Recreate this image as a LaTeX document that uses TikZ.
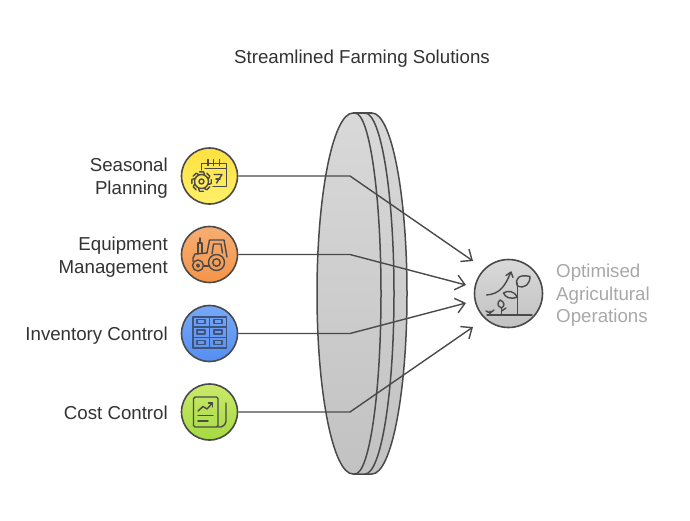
\documentclass[tikz,border=0pt]{standalone}
\usepackage{fontspec}
\setmainfont{Liberation Sans}
\usetikzlibrary{arrows.meta}
\definecolor{ink}{HTML}{4A4A4A}
\definecolor{lab}{HTML}{333333}
\definecolor{soft}{HTML}{A8A8A8}
\definecolor{yA}{HTML}{FFE13F}\definecolor{yB}{HTML}{FFF06A}
\definecolor{oA}{HTML}{F6AD72}\definecolor{oB}{HTML}{F59548}
\definecolor{bA}{HTML}{76A8F8}\definecolor{bB}{HTML}{558FF2}
\definecolor{gA}{HTML}{CBE96A}\definecolor{gB}{HTML}{A5DA42}
\definecolor{iblue}{HTML}{3F5478}
\tikzset{
  x=1pt,y=-1pt,
  conn/.style={draw=ink,line width=1.4pt,line join=round},
  tipped/.style={conn,-{Straight Barb[length=9pt,width=15pt,line width=1.4pt]}},
  badge/.style={circle,draw=ink,line width=1.6pt,minimum size=56pt,inner sep=0pt},
  lbl/.style={font=\fontsize{18.7}{23}\selectfont,text=lab,align=right,anchor=east,inner sep=0pt},
  icon/.style={draw=ink,line width=1.4pt,line cap=round,line join=round},
  lens/.style={draw=ink,line width=1.5pt},
}
\begin{document}
\begin{tikzpicture}
\useasboundingbox (0,0) rectangle (690,520);
\fill[white] (0,0) rectangle (690,520);
\node[font=\fontsize{18.7}{21}\selectfont,text=lab,inner sep=0pt] (title) at (362,59) {Streamlined Farming Solutions};
% lens
\path[top color=black!15,bottom color=black!24]
  (353,113) -- (372,113) arc[start angle=-90,end angle=90,x radius=35,y radius=180.5] -- (353,474)
  arc[start angle=90,end angle=270,x radius=36,y radius=180.5] -- cycle;
\draw[lens] (353,113) arc[start angle=-90,end angle=-270,x radius=36,y radius=180.5]
  -- (355,474) arc[start angle=90,end angle=-90,x radius=26,y radius=180.5] -- cycle;
\draw[lens] (365,113) arc[start angle=-90,end angle=90,x radius=29,y radius=180.5];
\draw[lens] (372,113) arc[start angle=-90,end angle=90,x radius=35,y radius=180.5] -- (353,474);
\draw[lens] (353,113) -- (372,113);
% badges
\node[badge,top color=yA,bottom color=yB] (seasonal) at (209.5,176) {};
\node[badge,top color=oA,bottom color=oB] (equip) at (209.5,254.5) {};
\node[badge,top color=bA,bottom color=bB] (inv) at (209.5,333.5) {};
\node[badge,top color=gA,bottom color=gB] (cost) at (209.5,412) {};
\node[circle,draw=ink,line width=1.6pt,minimum size=68pt,inner sep=0pt,top color=black!15,bottom color=black!24] (goal) at (508.5,293.5) {};
% labels
\node[lbl] (l1) at (168,178) {Seasonal\\Planning};
\node[lbl] (l2) at (168,257) {Equipment\\Management};
\node[lbl] (l3) at (168,335.5) {Inventory Control};
\node[lbl] (l4) at (168,413) {Cost Control};
\node[font=\fontsize{18.7}{22.5}\selectfont,text=soft,align=left,anchor=west,inner sep=0pt] (l5) at (556,295.5) {Optimised\\Agricultural\\Operations};
% connector bends and ends
\coordinate (b1) at (350,176); \coordinate (e1) at (473,261);
\coordinate (b2) at (350,254.5); \coordinate (e2) at (466,285);
\coordinate (b3) at (350,333.5); \coordinate (e3) at (466,303);
\coordinate (b4) at (350,412); \coordinate (e4) at (473,327);
\draw[tipped] (seasonal.east) -- (b1) -- (e1);
\draw[tipped] (equip.east) -- (b2) -- (e2);
\draw[tipped] (inv.east) -- (b3) -- (e3);
\draw[tipped] (cost.east) -- (b4) -- (e4);
% calendar icon
\draw[icon] (201.5,170) -- (201.5,163.5) -- (226.5,163.5) -- (226.5,186.5) -- (213,186.5);
\draw[icon] (205,168.5) -- (226.5,168.5);
\foreach \xx in {208,213.5,219.5} \draw[icon] (\xx,159.5) -- (\xx,165.5);
\draw[icon] (214,174.5) -- (222,174.5) -- (216.5,183);
\draw[icon] (216,179) -- (220,179);
\foreach \a in {0,45,...,315}
  \draw[icon,rotate around={\a:(201.5,181.5)}] (199.5,171.8) -- (203.5,171.8) -- (204.5,174.5);
\draw[icon] (201.5,181.5) circle[radius=7];
\draw[icon] (201.5,181.5) circle[radius=2.5];
% tractor icon
\draw[icon] (198,265.5) circle[radius=5.5];
\draw[icon] (198,265.5) circle[radius=1.5];
\draw[icon] (216.5,262.5) circle[radius=8];
\draw[icon] (216.5,262.5) circle[radius=3.8];
\draw[icon] (193,261.5) -- (193,258) -- (195,254) -- (207,253) -- (209.5,240) -- (224,240) -- (227,257);
\draw[icon] (204,266) -- (208.5,266);
\draw[icon] (212,254) -- (213.5,244) -- (221,244) -- (222.5,253);
\draw[icon] (198,254) -- (198,243) -- (202,243) -- (202,253.5);
\draw[icon] (200,243) -- (200,238);
% inventory icon
\draw[icon,draw=iblue] (193,317) rectangle (226.5,348);
\draw[icon,draw=iblue] (209.5,317) -- (209.5,348) (193,327) -- (226.5,327) (193,337.5) -- (226.5,337.5);
\foreach \yy in {319.5,330,340.5} {
  \draw[icon,draw=iblue] (197,\yy) rectangle (205,\yy+4);
  \draw[icon,draw=iblue] (214,\yy) rectangle (222,\yy+4);
}
% cost icon
\draw[icon,rounded corners=1.5pt] (193.5,397) rectangle (218,427);
\draw[icon,rounded corners=1.5pt] (218,427) -- (222,427) -- (226,423) -- (226,403);
\draw[icon] (198,411) -- (203,406.5) -- (207,409) -- (212.5,403);
\draw[icon] (208.5,403) -- (212.5,403) -- (212.5,407);
\draw[icon] (198,415.5) -- (213,415.5);
\draw[icon] (198,421) -- (208,421);
% plant icon
\draw[icon] (487,315) -- (532,315);
\draw[icon] (517.5,315) -- (517.5,283);
\draw[icon] (517.5,286) .. controls (514,278) and (520,274) .. (530,276.5) .. controls (530,284) and (525,289) .. (517.5,286) -- cycle;
\draw[icon] (517.5,297) .. controls (510,300) and (505,297) .. (503.5,293) .. controls (508,290) and (514,291) .. (517.5,297) -- cycle;
\draw[icon] (501.5,315) -- (501.5,308);
\draw[icon] (501.5,308) .. controls (497,306) and (497,303) .. (500,300) .. controls (505,302) and (505,306) .. (501.5,308) -- cycle;
\draw[icon] (501.5,311) -- (506,308);
\draw[icon] (490,315) -- (490,311) (486,311) -- (490,313) -- (494,310);
\draw[icon] (486.5,295) .. controls (500,294) and (505,286) .. (510.5,273);
\draw[icon] (506,275.5) -- (511,272) -- (513,277.5);
\end{tikzpicture}
\end{document}
